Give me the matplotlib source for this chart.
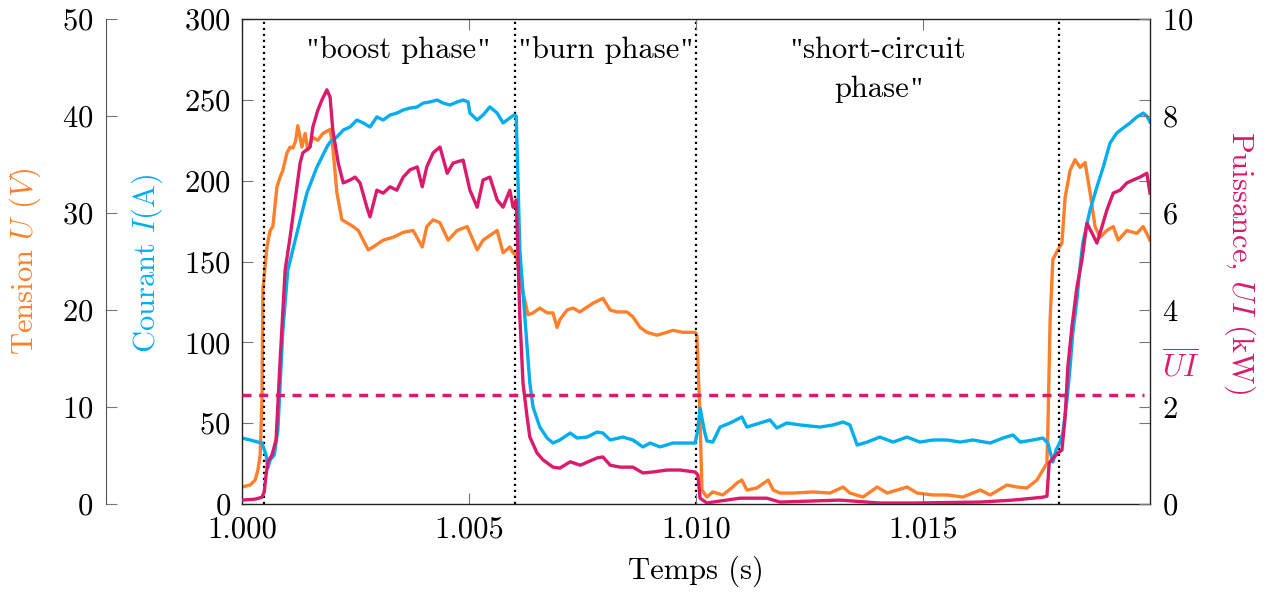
import matplotlib
matplotlib.use("Agg")
import matplotlib.pyplot as plt
from matplotlib.offsetbox import TextArea, HPacker, AnnotationBbox

plt.rcParams['font.family'] = ['cmr10', 'DejaVu Serif']
plt.rcParams['mathtext.fontset'] = 'cm'
plt.rcParams['axes.unicode_minus'] = False
plt.rcParams['axes.formatter.use_mathtext'] = True

# ---------------- data (time in s) ----------------
current_pts = [  # (t, I in A)
    (1.00000, 40.8), (1.00018, 39.6), (1.00035, 38.3), (1.00044, 37.7), (1.00053, 30.3),
    (1.00057, 22.3), (1.00062, 27.2), (1.00071, 30.3), (1.00079, 45.8), (1.00090, 107.6),
    (1.00101, 144.7), (1.00121, 167.6), (1.00143, 192.4), (1.00165, 208.4), (1.00187, 220.8),
    (1.00194, 223.9), (1.00209, 227.0), (1.00223, 231.3), (1.00238, 233.2), (1.00253, 237.5),
    (1.00267, 235.7), (1.00282, 233.2), (1.00297, 239.4), (1.00311, 237.5), (1.00326, 240.6),
    (1.00341, 241.8), (1.00355, 243.7), (1.00370, 244.9), (1.00386, 245.6), (1.00399, 248.0),
    (1.00414, 248.7), (1.00430, 249.9), (1.00443, 248.0), (1.00458, 246.8), (1.00474, 248.7),
    (1.00487, 249.9), (1.00498, 248.7), (1.00502, 241.8), (1.00518, 237.5), (1.00531, 240.6),
    (1.00546, 245.6), (1.00562, 241.8), (1.00575, 235.7), (1.00590, 238.8), (1.00599, 240.6),
    (1.00604, 240.0), (1.00612, 157.1), (1.00623, 115.7), (1.00634, 74.8), (1.00641, 60.0),
    (1.00656, 47.6), (1.00672, 40.8), (1.00685, 37.7), (1.00700, 39.6), (1.00723, 43.9),
    (1.00738, 40.8), (1.00760, 41.4), (1.00782, 44.5), (1.00795, 43.9), (1.00811, 39.6),
    (1.00839, 41.4), (1.00861, 39.6), (1.00883, 35.3), (1.00899, 37.7), (1.00921, 35.3),
    (1.00949, 37.7), (1.00980, 37.7), (1.00998, 37.7), (1.01004, 45.8), (1.01009, 59.4),
    (1.01018, 45.8), (1.01024, 39.0), (1.01037, 38.3), (1.01053, 47.6), (1.01075, 50.1),
    (1.01101, 53.8), (1.01112, 47.6), (1.01141, 50.1), (1.01163, 52.0), (1.01178, 47.0),
    (1.01200, 50.1), (1.01229, 48.9), (1.01273, 47.6), (1.01302, 48.9), (1.01324, 50.7),
    (1.01339, 48.9), (1.01355, 36.5), (1.01377, 38.3), (1.01405, 41.4), (1.01434, 38.3),
    (1.01465, 41.4), (1.01493, 38.3), (1.01522, 39.6), (1.01553, 39.6), (1.01582, 38.3),
    (1.01610, 39.6), (1.01648, 37.7), (1.01676, 40.8), (1.01698, 42.7), (1.01714, 38.3),
    (1.01742, 39.6), (1.01764, 40.8), (1.01775, 37.7), (1.01786, 26.0), (1.01793, 33.4),
    (1.01802, 38.3), (1.01808, 43.9), (1.01817, 64.3), (1.01824, 84.7), (1.01830, 105.8),
    (1.01839, 126.2), (1.01846, 146.6), (1.01852, 161.4), (1.01868, 181.9), (1.01883, 196.1),
    (1.01897, 208.4), (1.01912, 223.3), (1.01927, 229.5), (1.01941, 232.6), (1.01956, 235.7),
    (1.01971, 239.4), (1.01985, 241.8), (1.01993, 240.0), (1.02000, 236.3),
]

voltage_pts = [  # (t, U in V)
    (1.00000, 1.75), (1.00018, 1.96), (1.00029, 2.47), (1.00035, 3.5), (1.00040, 5.05),
    (1.00044, 10.7), (1.00046, 22.1), (1.00055, 26.5), (1.00062, 28.2), (1.00068, 28.6),
    (1.00077, 32.7), (1.00084, 33.7), (1.00090, 34.4), (1.00099, 36.2), (1.00106, 36.8),
    (1.00112, 36.7), (1.00118, 37.4), (1.00123, 39.0), (1.00132, 36.8), (1.00139, 38.2),
    (1.00145, 36.5), (1.00156, 37.8), (1.00167, 37.5), (1.00178, 38.2), (1.00194, 38.6),
    (1.00200, 36.8), (1.00209, 32.1), (1.00220, 29.3), (1.00231, 29.0), (1.00245, 28.6),
    (1.00256, 28.2), (1.00267, 27.2), (1.00278, 26.2), (1.00289, 26.5), (1.00311, 27.2),
    (1.00333, 27.5), (1.00355, 28.0), (1.00377, 28.2), (1.00397, 26.5), (1.00407, 28.6),
    (1.00421, 29.3), (1.00436, 29.0), (1.00454, 27.2), (1.00474, 28.2), (1.00496, 28.6),
    (1.00518, 26.2), (1.00531, 27.2), (1.00562, 28.2), (1.00575, 25.9), (1.00590, 26.5),
    (1.00597, 25.9), (1.00604, 25.7), (1.00612, 23.1), (1.00623, 21.0), (1.00630, 19.5),
    (1.00641, 19.7), (1.00656, 20.2), (1.00672, 19.7), (1.00685, 19.7), (1.00694, 18.2),
    (1.00700, 19.0), (1.00716, 20.0), (1.00729, 20.2), (1.00744, 19.8), (1.00760, 20.3),
    (1.00773, 20.7), (1.00795, 21.2), (1.00811, 20.0), (1.00826, 19.8), (1.00848, 19.8),
    (1.00861, 19.3), (1.00877, 18.2), (1.00892, 17.7), (1.00914, 17.4), (1.00936, 17.7),
    (1.00949, 17.9), (1.00971, 17.7), (1.00998, 17.7), (1.01002, 17.4), (1.01009, 8.7),
    (1.01013, 1.44), (1.01024, 0.72), (1.01037, 1.24), (1.01059, 0.93), (1.01081, 1.75),
    (1.01090, 2.16), (1.01101, 2.47), (1.01112, 1.44), (1.01134, 1.65), (1.01159, 2.47),
    (1.01170, 1.44), (1.01185, 1.13), (1.01214, 1.13), (1.01258, 1.24), (1.01295, 1.13),
    (1.01324, 1.75), (1.01339, 1.13), (1.01368, 0.72), (1.01399, 1.75), (1.01421, 1.13),
    (1.01465, 1.75), (1.01487, 1.13), (1.01522, 0.93), (1.01553, 0.93), (1.01588, 0.72),
    (1.01626, 1.44), (1.01648, 0.93), (1.01685, 1.96), (1.01707, 1.75), (1.01729, 1.65),
    (1.01751, 2.47), (1.01764, 3.5), (1.01773, 4.2), (1.01775, 7.6), (1.01780, 19.0),
    (1.01786, 25.2), (1.01797, 26.2), (1.01806, 26.9), (1.01813, 31.6), (1.01824, 34.4),
    (1.01835, 35.5), (1.01846, 34.7), (1.01857, 35.2), (1.01868, 32.1), (1.01879, 28.6),
    (1.01890, 27.5), (1.01905, 28.2), (1.01919, 28.6), (1.01930, 27.2), (1.01949, 28.2),
    (1.01971, 27.9), (1.01985, 28.6), (1.02000, 27.2),
]

power_pts = [  # (t, UI in kW)
    (1.00000, 0.08), (1.00029, 0.10), (1.00044, 0.14), (1.00049, 0.25), (1.00053, 0.60),
    (1.00057, 0.87), (1.00066, 1.01), (1.00075, 1.32), (1.00084, 2.97), (1.00095, 4.82),
    (1.00106, 5.51), (1.00117, 6.27), (1.00128, 7.03), (1.00134, 7.24), (1.00150, 7.36),
    (1.00156, 7.77), (1.00167, 8.12), (1.00176, 8.33), (1.00187, 8.54), (1.00194, 8.39),
    (1.00200, 7.71), (1.00212, 7.03), (1.00223, 6.62), (1.00238, 6.68), (1.00249, 6.74),
    (1.00260, 6.62), (1.00275, 6.12), (1.00282, 5.92), (1.00297, 6.47), (1.00311, 6.41),
    (1.00326, 6.54), (1.00341, 6.47), (1.00355, 6.74), (1.00370, 6.89), (1.00386, 6.95),
    (1.00397, 6.54), (1.00407, 6.95), (1.00421, 7.24), (1.00436, 7.36), (1.00452, 6.82),
    (1.00465, 7.03), (1.00487, 7.09), (1.00502, 6.47), (1.00518, 6.12), (1.00531, 6.68),
    (1.00546, 6.74), (1.00562, 6.27), (1.00575, 6.12), (1.00590, 6.47), (1.00597, 6.12),
    (1.00604, 6.27), (1.00612, 3.86), (1.00619, 2.49), (1.00628, 1.79), (1.00634, 1.38),
    (1.00650, 1.05), (1.00663, 0.91), (1.00685, 0.76), (1.00700, 0.74), (1.00723, 0.87),
    (1.00745, 0.80), (1.00782, 0.95), (1.00795, 0.97), (1.00811, 0.80), (1.00833, 0.76),
    (1.00861, 0.76), (1.00883, 0.64), (1.00905, 0.66), (1.00936, 0.70), (1.00965, 0.70),
    (1.00998, 0.66), (1.01004, 0.60), (1.01009, 0.12), (1.01024, 0.02), (1.01037, 0.04),
    (1.01097, 0.12), (1.01156, 0.12), (1.01185, 0.04), (1.01317, 0.08), (1.01405, 0.02),
    (1.01478, 0.02), (1.01626, 0.04), (1.01698, 0.08), (1.01764, 0.14), (1.01773, 0.16),
    (1.01778, 0.85), (1.01797, 1.05), (1.01806, 1.11), (1.01813, 1.79), (1.01819, 2.82),
    (1.01828, 3.65), (1.01839, 4.47), (1.01850, 5.03), (1.01861, 5.79), (1.01872, 5.59),
    (1.01883, 5.38), (1.01894, 5.71), (1.01905, 6.06), (1.01919, 6.41), (1.01934, 6.47),
    (1.01949, 6.62), (1.01963, 6.68), (1.01978, 6.74), (1.01993, 6.82), (1.02000, 6.41),
]

phase_bounds = [1.00048, 1.00601, 1.01000, 1.01800]
mean_power = 2.25
x_ticks = [1.000, 1.005, 1.010, 1.015]
x_tick_labels = ['1.000', '1.005', '1.010', '1.015']
I_ticks = [0, 50, 100, 150, 200, 250, 300]
U_ticks = [0, 10, 20, 30, 40, 50]
P_ticks = [0, 2, 4, 6, 8, 10]

t_I, I_vals = zip(*current_pts)
t_U, U_vals = zip(*voltage_pts)
t_P, P_vals = zip(*power_pts)

ORANGE = '#FF7F2A'
CYAN = '#00AEEF'
MAGENTA = '#DA1A6B'
FS = 22
LW = 2.4

W, H = 1271, 592
fig = plt.figure(figsize=(W / 100, H / 100), dpi=100)
rect = [242 / W, 88 / H, 908 / W, 485 / H]

axU = fig.add_axes(rect)
ax = fig.add_axes(rect)
axP = fig.add_axes(rect)
axU.set_zorder(1)
ax.set_zorder(2)
axP.set_zorder(3)
for a in (axU, ax, axP):
    a.patch.set_visible(False)
    a.set_xlim(1.000, 1.020)

# voltage axis (far left)
axU.set_ylim(0, 50)
for s in ('top', 'right', 'bottom'):
    axU.spines[s].set_visible(False)
axU.spines['left'].set_position(('axes', -0.1498))
axU.spines['left'].set_color('#555555')
axU.xaxis.set_visible(False)
axU.set_yticks(U_ticks)
axU.tick_params(axis='y', direction='in', length=8, width=0.8, color='#777777',
                labelsize=FS, pad=9)
axU.plot(t_U, U_vals, color=ORANGE, lw=LW, solid_joinstyle='round')

# current axis (main)
ax.set_ylim(0, 300)
ax.set_yticks(I_ticks)
ax.set_xticks(x_ticks, x_tick_labels)
ax.tick_params(axis='both', direction='in', length=8, width=0.8, color='#777777',
               labelsize=FS, top=True, right=True)
ax.tick_params(axis='y', pad=8)
ax.tick_params(axis='x', pad=9)
for s in ax.spines.values():
    s.set_color('#222222')
    s.set_linewidth(1.0)
for xb in phase_bounds:
    ax.axvline(xb, color='black', lw=1.6, linestyle=(0, (1, 1.7)), zorder=1)
ax.plot(t_I, I_vals, color=CYAN, lw=LW, solid_joinstyle='round')

# power axis (right)
axP.set_ylim(0, 10)
for s in axP.spines.values():
    s.set_visible(False)
axP.xaxis.set_visible(False)
axP.yaxis.tick_right()
axP.set_yticks(P_ticks)
axP.tick_params(axis='y', direction='in', length=8, width=0.8, color='#777777',
                labelsize=FS, pad=9)
axP.axhline(mean_power, xmax=0.993, color=MAGENTA, lw=2.5, linestyle=(0, (2.6, 2.2)))
axP.plot(t_P, P_vals, color=MAGENTA, lw=LW, solid_joinstyle='round')


# phase annotations (straight quotes like the TeX rendering)
def quoted(x, yfrac, text, open_q=True, close_q=True):
    q = dict(family='Liberation Serif', fontsize=FS * 0.95)
    t = dict(fontsize=FS)
    parts = []
    if open_q:
        parts.append(TextArea('"', textprops=q))
    parts.append(TextArea(text, textprops=t))
    if close_q:
        parts.append(TextArea('"', textprops=q))
    box = HPacker(children=parts, align='baseline', pad=0, sep=1)
    ab = AnnotationBbox(box, (x, yfrac), xycoords=ax.get_xaxis_transform(),
                        frameon=False, pad=0, box_alignment=(0.5, 0.5))
    ax.add_artist(ab)


quoted(1.003436, 0.935, 'boost phase')
quoted(1.008000, 0.935, 'burn phase')
quoted(1.014010, 0.935, 'short-circuit', close_q=False)
quoted(1.014010, 0.855, 'phase', open_q=False)

# axis labels
fig.text(25 / W, 1 - 261 / H, r'Tension $U$ $(V)$', rotation=90, ha='center', va='center',
         fontsize=FS, color=ORANGE)
fig.text(147 / W, 1 - 263 / H, r'Courant $I$(A)', rotation=90, ha='center', va='center',
         fontsize=FS, color=CYAN)
fig.text(1240 / W, 1 - 262 / H, r'Puissance, $UI$ (kW)', rotation=270, ha='center', va='center',
         fontsize=FS, color=MAGENTA)
fig.text(1162 / W, 1 - 366 / H, r'$\overline{UI}$', ha='left', va='center',
         fontsize=FS, color=MAGENTA)
fig.text(696 / W, 1 - 571 / H, 'Temps (s)', ha='center', va='center', fontsize=FS)

fig.savefig('out.png', dpi=100, facecolor='white')
